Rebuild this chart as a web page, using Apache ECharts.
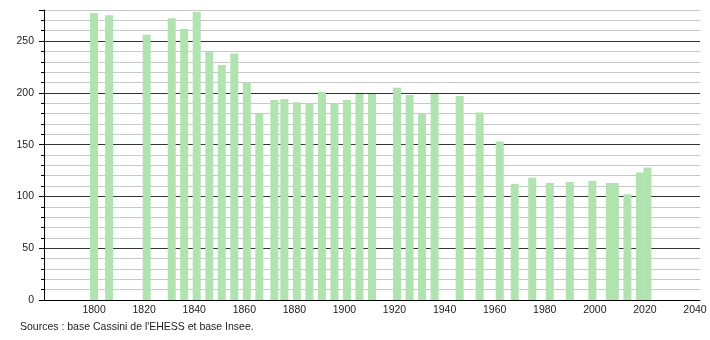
<!DOCTYPE html>
<html>
<head>
<meta charset="utf-8">
<script src="https://cdn.jsdelivr.net/npm/echarts@6/dist/echarts.min.js"></script>
<style>
html,body{margin:0;padding:0;background:#fff;}
#chart{width:710px;height:340px;}
</style>
</head>
<body>
<div id="chart"></div>
<script>
const years = [1800, 1806, 1821, 1831, 1836, 1841, 1846, 1851, 1856, 1861, 1866, 1872, 1876, 1881, 1886, 1891, 1896, 1901, 1906, 1911, 1921, 1926, 1931, 1936, 1946, 1954, 1962, 1968, 1975, 1982, 1990, 1999, 2006, 2008, 2013, 2018, 2021];
const population = [277, 275, 256, 272, 262, 278, 240, 227, 238, 210, 180, 193, 194, 191, 190, 201, 190, 193, 199, 199, 205, 198, 180, 199, 197, 181, 153, 112, 118, 113, 114, 115, 113, 113, 102, 123, 128];
const sourceText = "Sources : base Cassini de l'EHESS et base Insee.";

const chart = echarts.init(document.getElementById('chart'), null, {renderer: 'canvas'});
const data = years.map((y, i) => [y, population[i]]);
const font = 'Liberation Sans, Arial, sans-serif';

chart.setOption({
  animation: false,
  backgroundColor: '#ffffff',
  grid: {left: 44, right: 10, top: 10, bottom: 40, containLabel: false},
  xAxis: {
    type: 'value',
    min: 1780,
    max: 2042,
    interval: 20,
    axisLine: {show: true, onZero: false, lineStyle: {color: '#000', width: 1}},
    axisTick: {show: false},
    splitLine: {show: false},
    axisLabel: {
      color: '#222', fontSize: 10.5, fontFamily: font, margin: 5,
      showMinLabel: false, showMaxLabel: false,
      formatter: v => (v === 1780 ? '' : String(v))
    }
  },
  yAxis: {
    type: 'value',
    min: 0,
    max: 280,
    interval: 50,
    axisLine: {show: true, lineStyle: {color: '#000', width: 1}},
    axisTick: {show: true, length: 5, lineStyle: {color: '#000'}},
    minorTick: {show: true, splitNumber: 5, length: 3, lineStyle: {color: '#000'}},
    splitLine: {show: true, lineStyle: {color: ['#333', '#333', '#333', '#333', '#333', '#333', '#c8c8c8'], width: 1}},
    minorSplitLine: {show: true, lineStyle: {color: '#c8c8c8', width: 1}},
    axisLabel: {color: '#222', fontSize: 10.5, fontFamily: font, margin: 10,
      showMaxLabel: false,
      formatter: v => (v % 50 === 0 ? String(v) : '')}
  },
  series: [{
    type: 'bar',
    data: data,
    barWidth: 8,
    itemStyle: {color: '#b0e3b0'},
    emphasis: {disabled: true}
  }],
  graphic: [{
    type: 'text',
    left: 20,
    top: 322,
    style: {text: sourceText, fill: '#222', font: '10.5px ' + font}
  }]
});
</script>
</body>
</html>
